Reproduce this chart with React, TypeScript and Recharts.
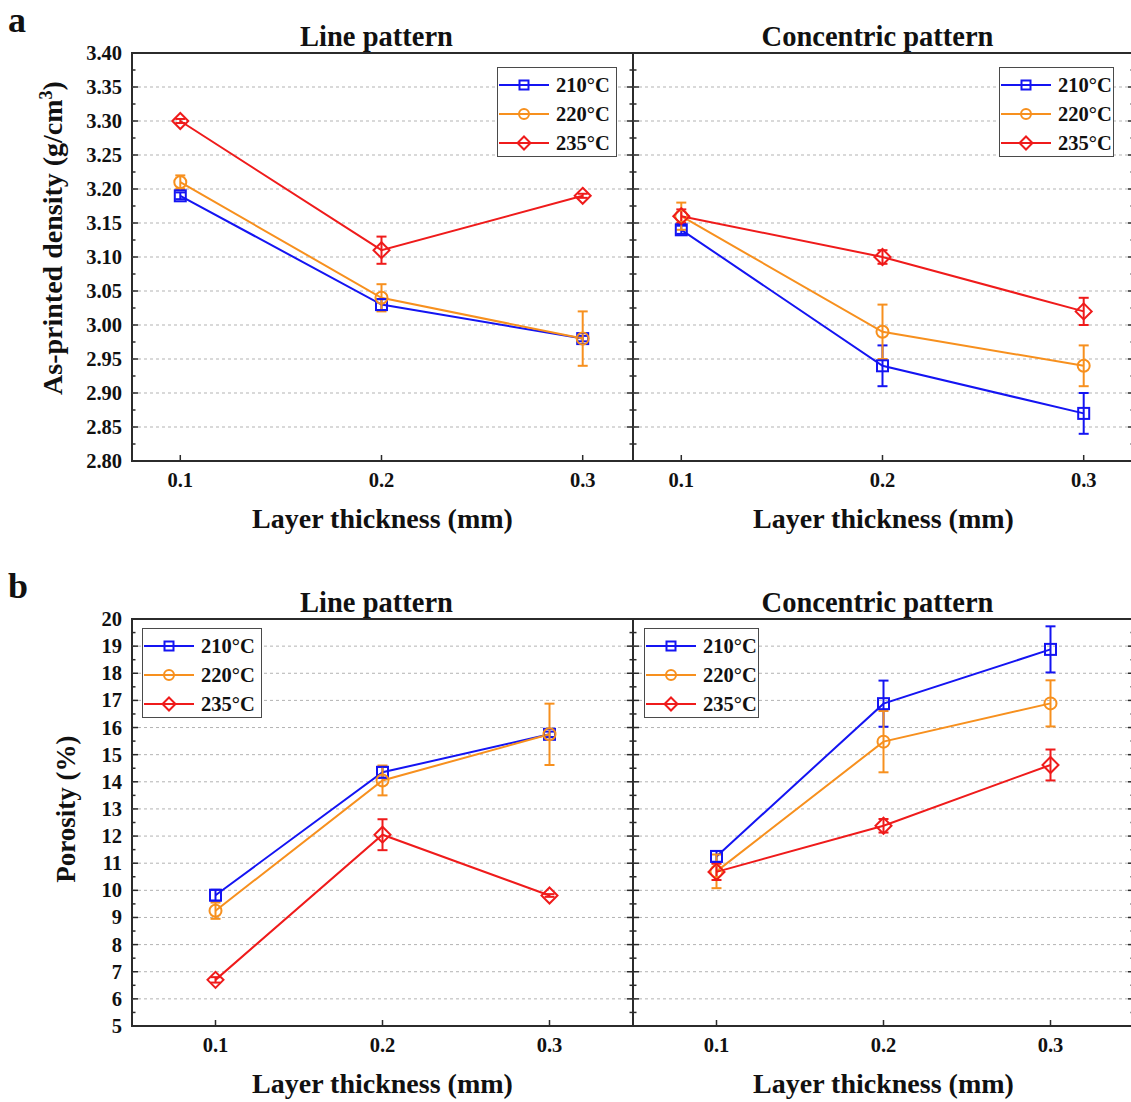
import React from 'react'
import { LineChart, Line, XAxis, YAxis, ErrorBar, ReferenceLine, ReferenceArea } from 'recharts'

const FONT = '"Liberation Serif", "Times New Roman", Times, serif'
const INK = '#111'
const FRAME = '#2b2b2b'
const GRID = '#b3b3b3'
const COLORS = ['#1414f2', '#f7901e', '#ef1b1b']
const SHAPES = ['square', 'circle', 'diamond']

const thickness = [0.1, 0.2, 0.3]
const temps = ['210°C', '220°C', '235°C']

const densityTicks = [2.8, 2.85, 2.9, 2.95, 3.0, 3.05, 3.1, 3.15, 3.2, 3.25, 3.3, 3.35, 3.4]
const porosityTicks = [5, 6, 7, 8, 9, 10, 11, 12, 13, 14, 15, 16, 17, 18, 19, 20]

// (a) as-printed density, g/cm3
const denLine210 = [3.19, 3.03, 2.98]
const denLine220 = [3.21, 3.04, 2.98]
const denLine235 = [3.3, 3.11, 3.19]
const denLine210Err = [0.005, 0.008, 0.004]
const denLine220Err = [0.01, 0.02, 0.04]
const denLine235Err = [0.003, 0.02, 0.003]

const denConc210 = [3.14, 2.94, 2.87]
const denConc220 = [3.16, 2.99, 2.94]
const denConc235 = [3.16, 3.1, 3.02]
const denConc210Err = [0.006, 0.03, 0.03]
const denConc220Err = [0.02, 0.04, 0.03]
const denConc235Err = [0.01, 0.01, 0.02]

// (b) porosity, %
const porLine210 = [9.82, 14.35, 15.75]
const porLine220 = [9.25, 14.05, 15.75]
const porLine235 = [6.7, 12.05, 9.81]
const porLine210Err = [0.2, 0.2, 0.1]
const porLine220Err = [0.3, 0.55, 1.13]
const porLine235Err = [0.1, 0.57, 0.05]

const porConc210 = [11.25, 16.88, 18.88]
const porConc220 = [10.7, 15.48, 16.89]
const porConc235 = [10.68, 12.38, 14.62]
const porConc210Err = [0.2, 0.85, 0.85]
const porConc220Err = [0.62, 1.13, 0.85]
const porConc235Err = [0.3, 0.25, 0.57]

function buildRows(vals: number[][], errs: number[][]) {
  return thickness.map((x, i) => ({
    x,
    s0: vals[0][i], e0: errs[0][i],
    s1: vals[1][i], e1: errs[1][i],
    s2: vals[2][i], e2: errs[2][i],
  }))
}

const denLineRows = buildRows([denLine210, denLine220, denLine235], [denLine210Err, denLine220Err, denLine235Err])
const denConcRows = buildRows([denConc210, denConc220, denConc235], [denConc210Err, denConc220Err, denConc235Err])
const porLineRows = buildRows([porLine210, porLine220, porLine235], [porLine210Err, porLine220Err, porLine235Err])
const porConcRows = buildRows([porConc210, porConc220, porConc235], [porConc210Err, porConc220Err, porConc235Err])

function Marker({ cx, cy, shape, color, small }: any) {
  if (cx == null || cy == null) return null
  const common = { fill: 'none', stroke: color, strokeWidth: 2 }
  if (shape === 'square') {
    const h = small ? 4.5 : 5.5
    return <rect x={cx - h} y={cy - h} width={h * 2} height={h * 2} {...common} />
  }
  if (shape === 'circle') return <circle cx={cx} cy={cy} r={small ? 5 : 6} {...common} />
  const d = small ? 6.5 : 8
  return <path d={`M${cx},${cy - d}L${cx + d},${cy}L${cx},${cy + d}L${cx - d},${cy}Z`} {...common} />
}

const textStyle = { fontFamily: FONT, fontWeight: 700, fill: INK }

function YTick({ x, y, payload, plotW, major, fmt }: any) {
  const v = payload.value
  const isMajor = major.some((m: number) => Math.abs(m - v) < 1e-6)
  const len = isMajor ? 6 : 3.5
  return (
    <g>
      <line x1={x} x2={x + len} y1={y} y2={y} stroke={FRAME} strokeWidth={1.5} />
      <line x1={x + plotW} x2={x + plotW - len} y1={y} y2={y} stroke={FRAME} strokeWidth={1.5} />
      {fmt && isMajor && (
        <text x={x - 10} y={y + 7} textAnchor="end" fontSize={20.5} {...textStyle}>
          {fmt(v)}
        </text>
      )}
    </g>
  )
}

function XTick({ x, y, payload }: any) {
  return (
    <g>
      <line x1={x} x2={x} y1={y} y2={y - 6} stroke={FRAME} strokeWidth={1.5} />
      <text x={x} y={y + 26} textAnchor="middle" fontSize={20.5} {...textStyle}>
        {payload.value.toFixed(1)}
      </text>
    </g>
  )
}

function XTitle({ midX, baseY }: any) {
  return (
    <text x={midX} y={baseY} textAnchor="middle" fontSize={28} {...textStyle}>
      Layer thickness (mm)
    </text>
  )
}

function YTitle({ baseX, midY, kind }: any) {
  return (
    <text
      x={baseX}
      y={midY}
      textAnchor="middle"
      transform={`rotate(-90, ${baseX}, ${midY})`}
      fontSize={kind === 'density' ? 28 : 27}
      {...textStyle}
    >
      {kind === 'density' ? (
        <>
          As-printed density (g/cm
          <tspan dy={-10} fontSize={18}>3</tspan>
          <tspan dy={10}>)</tspan>
        </>
      ) : (
        'Porosity (%)'
      )}
    </text>
  )
}

function LegendBox({ left, top, width }: any) {
  return (
    <div
      style={{
        position: 'absolute', left, top, width, height: 90, boxSizing: 'border-box',
        border: '1.5px solid #4a4a4a', background: '#fff',
      }}
    >
      {temps.map((t, i) => (
        <div
          key={t}
          style={{ position: 'absolute', left: 0, top: 17 + i * 29 - 12, height: 24, display: 'flex', alignItems: 'center' }}
        >
          <svg width={54} height={24}>
            <line x1={1} x2={51} y1={12} y2={12} stroke={COLORS[i]} strokeWidth={2} />
            <Marker cx={26} cy={12} shape={SHAPES[i]} color={COLORS[i]} small />
          </svg>
          <span style={{ marginLeft: 4, fontFamily: FONT, fontWeight: 700, fontSize: 20.5, color: INK, lineHeight: '24px' }}>{t}</span>
        </div>
      ))}
    </div>
  )
}

const CHART_H = 536
const TOP_M = 53

function Panel(p: any) {
  const { left, top, width, yWidth, marginRight, plotH, rows, xDomain, yTicks, fmt, yTitle, title, legend } = p
  const yDomain = [yTicks[0], yTicks[yTicks.length - 1]]
  const minor = yTicks.slice(1).map((t: number, i: number) => (t + yTicks[i]) / 2)
  const plotW = width - yWidth - marginRight
  const midX = yWidth + plotW / 2
  const bottom = TOP_M + plotH
  return (
    <div style={{ position: 'absolute', left, top, width, height: CHART_H }}>
      <LineChart width={width} height={CHART_H} data={rows} margin={{ top: TOP_M, right: marginRight, bottom: 0, left: 0 }}>
        <XAxis
          type="number"
          dataKey="x"
          domain={xDomain}
          ticks={thickness}
          interval={0}
          allowDataOverflow
          axisLine={false}
          tickLine={false}
          tickSize={0}
          tickMargin={0}
          height={CHART_H - TOP_M - plotH}
          tick={(t: any) => <XTick {...t} />}
          label={<XTitle midX={midX} baseY={bottom + 67} />}
        />
        <YAxis
          type="number"
          domain={yDomain}
          ticks={[...yTicks, ...minor].sort((a, b) => a - b)}
          interval={0}
          allowDataOverflow
          width={yWidth}
          axisLine={false}
          tickLine={false}
          tickSize={0}
          tickMargin={0}
          tick={(t: any) => <YTick {...t} plotW={plotW} major={yTicks} fmt={fmt} />}
          label={yTitle ? <YTitle {...yTitle} /> : undefined}
        />
        {yTicks.slice(1, -1).map((v: number) => (
          <ReferenceLine key={v} y={v} stroke={GRID} strokeDasharray="3 3" strokeWidth={1} />
        ))}
        <ReferenceArea
          x1={xDomain[0]}
          x2={xDomain[1]}
          y1={yDomain[0]}
          y2={yDomain[1]}
          fill="none"
          fillOpacity={0}
          stroke={FRAME}
          strokeWidth={2}
          ifOverflow="visible"
        />
        {[0, 1, 2].map((i) => (
          <Line
            key={i}
            type="linear"
            dataKey={`s${i}`}
            stroke={COLORS[i]}
            strokeWidth={2}
            isAnimationActive={false}
            activeDot={false}
            dot={(d: any) => <Marker key={`m${i}-${d.index}`} cx={d.cx} cy={d.cy} shape={SHAPES[i]} color={COLORS[i]} />}
          >
            <ErrorBar dataKey={`e${i}`} direction="y" width={5} stroke={COLORS[i]} strokeWidth={2} isAnimationActive={false} />
          </Line>
        ))}
      </LineChart>
      <div
        style={{
          position: 'absolute', left: midX - 250 - 6, width: 500, top: 22.5, textAlign: 'center',
          fontFamily: FONT, fontWeight: 700, fontSize: 28.5, lineHeight: 1, color: INK,
        }}
      >
        {title}
      </div>
      <LegendBox {...legend} />
    </div>
  )
}

const letterStyle = (top: number): React.CSSProperties => ({
  position: 'absolute', left: 8, top, fontFamily: FONT, fontWeight: 700, fontSize: 36, lineHeight: 1, color: INK,
})

export default function App() {
  const fmtDen = (v: number) => v.toFixed(2)
  const fmtPor = (v: number) => String(v)
  return (
    <div
      style={{
        position: 'absolute', left: 0, top: 0, width: 1131, height: 1102, overflow: 'hidden', background: '#fff',
      }}
    >
      <div style={letterStyle(1.5)}>a</div>
      <div style={letterStyle(567.5)}>b</div>

      <Panel
        left={0} top={0} width={640} yWidth={132} marginRight={7} plotH={408}
        rows={denLineRows} xDomain={[0.076, 0.325]} yTicks={densityTicks} fmt={fmtDen}
        yTitle={{ baseX: 62, midY: 238, kind: 'density' }}
        title="Line pattern" legend={{ left: 497, top: 67, width: 120 }}
      />
      <Panel
        left={623} top={0} width={514} yWidth={10} marginRight={3} plotH={408}
        rows={denConcRows} xDomain={[0.076, 0.325]} yTicks={densityTicks} fmt={null}
        title="Concentric pattern" legend={{ left: 376, top: 67, width: 115 }}
      />
      <Panel
        left={0} top={566} width={640} yWidth={132} marginRight={7} plotH={407}
        rows={porLineRows} xDomain={[0.05, 0.35]} yTicks={porosityTicks} fmt={fmtPor}
        yTitle={{ baseX: 75, midY: 243, kind: 'porosity' }}
        title="Line pattern" legend={{ left: 142, top: 62, width: 120 }}
      />
      <Panel
        left={623} top={566} width={514} yWidth={10} marginRight={3} plotH={407}
        rows={porConcRows} xDomain={[0.05, 0.35]} yTicks={porosityTicks} fmt={null}
        title="Concentric pattern" legend={{ left: 21, top: 62, width: 115 }}
      />
    </div>
  )
}
